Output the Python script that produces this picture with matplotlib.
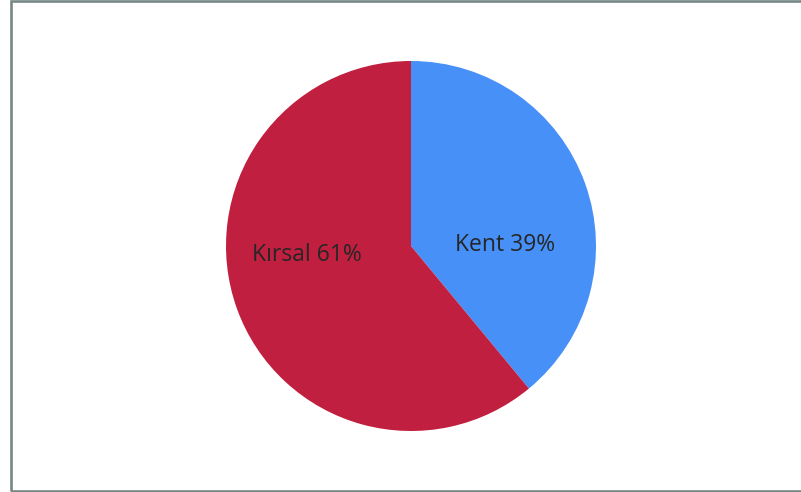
import matplotlib.pyplot as plt
from matplotlib.patches import Rectangle

plt.rcParams['font.family'] = ['Open Sans', 'DejaVu Sans']

labels = ['Kent', 'Kırsal']
values = [39, 61]
colors = ['#4690f8', '#c01f3f']

fig = plt.figure(figsize=(8.01, 4.92), dpi=100)

# çerçeve
fig.patches.append(Rectangle((10.5 / 801, 1 / 492), 800 / 801, 490 / 492,
                             transform=fig.transFigure, fill=False,
                             edgecolor='#768785', linewidth=1.9))

cx, cy, r = 411, 246, 185
ax = fig.add_axes([(cx - r) / 801, (492 - cy - r) / 492, 2 * r / 801, 2 * r / 492])
wedges, texts = ax.pie(values, colors=colors, startangle=90, counterclock=False,
                       radius=1)
ax.set_xlim(-1, 1)
ax.set_ylim(-1, 1)
ax.set_aspect('auto')
ax.axis('off')

# etiketler
pos = [(505, 245), (307, 255)]
for (px, py), lab, v in zip(pos, labels, values):
    fig.text(px / 801, 1 - py / 492, f'{lab} {v}%', ha='center', va='center',
             fontsize=16.5, color='#262626')

fig.savefig('out.png', dpi=100)
